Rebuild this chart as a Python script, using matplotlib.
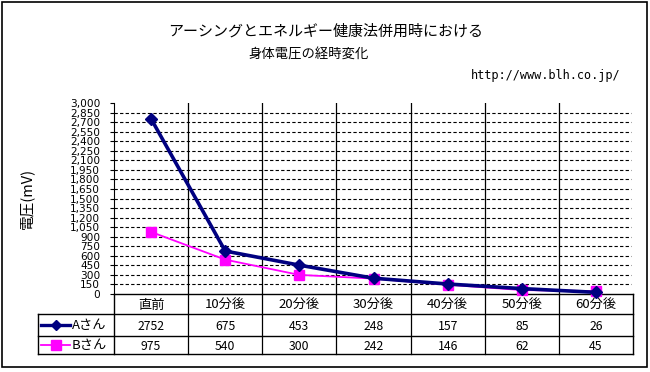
import matplotlib
matplotlib.use("Agg")
import matplotlib.pyplot as plt
from matplotlib.ticker import FuncFormatter, MultipleLocator

plt.rcParams['font.family'] = ['Noto Sans CJK JP', 'DejaVu Sans']

categories = ["直前", "10分後", "20分後", "30分後", "40分後", "50分後", "60分後"]
series_names = ["Aさん", "Bさん"]
a_values = [2752, 675, 453, 248, 157, 85, 26]
b_values = [975, 540, 300, 242, 146, 62, 45]
title_lines = ["アーシングとエネルギー健康法併用時における", "身体電圧の経時変化"]
url_text = "http://www.blh.co.jp/"
y_label = "電圧(mV)"
y_max = 3000
y_step = 150

W, H = 650, 372
fig = plt.figure(figsize=(W / 100, H / 100), dpi=100)
fig.patch.set_facecolor("white")

# full-figure pixel axes for frame, table, titles
bg = fig.add_axes([0, 0, 1, 1])
bg.set_xlim(0, W)
bg.set_ylim(H, 0)
bg.axis("off")

# geometry (pixels)
px_left, px_right = 114, 633
px_top, px_bottom = 103, 294
row_a, row_b, row_end = 314, 336, 354
leg_left = 38
ncat = len(categories)
colw = (px_right - px_left) / ncat

# outer frame
bg.add_patch(plt.Rectangle((2, 2), 645, 365, fill=False, lw=1.2, ec="black"))

# titles
bg.text(326, 31, title_lines[0], ha="center", va="center", fontsize=10.8)
bg.text(309, 55, title_lines[1], ha="center", va="center", fontsize=9.6)
bg.text(620, 76, url_text, ha="right", va="center", fontsize=8.6,
        family="DejaVu Sans Mono")
bg.text(27, 198, y_label, ha="center", va="center", rotation=90, fontsize=10.5)

# data axes
ax = fig.add_axes([px_left / W, (H - px_bottom) / H,
                   (px_right - px_left) / W, (px_bottom - px_top) / H])
ax.set_xlim(-0.5, ncat - 0.5)
ax.set_ylim(0, y_max)
ax.patch.set_alpha(0)
for s in ["top", "right", "bottom"]:
    ax.spines[s].set_visible(False)
ax.spines["left"].set_linewidth(0.8)
ax.yaxis.set_major_locator(MultipleLocator(y_step))
ax.yaxis.set_major_formatter(FuncFormatter(lambda v, p: f"{int(v):,}"))
ax.tick_params(axis="y", length=3, width=0.8, labelsize=7.6, pad=7)
for lbl in ax.get_yticklabels():
    lbl.set_family("DejaVu Sans")
ax.set_xticks([])
for v in range(y_step, y_max, y_step):
    ax.plot([-0.5, ncat - 0.53], [v, v], color="black", lw=0.8, ls=(0, (3, 2)), zorder=1)
for k in range(1, ncat):
    ax.axvline(k - 0.5, color="black", lw=0.9, zorder=1)

x = list(range(ncat))
ax.plot(x, b_values, color="#FF00FF", lw=1.3, marker="s", ms=7.5, zorder=3,
        clip_on=False)
ax.plot(x, a_values, color="#000080", lw=2.6, marker="D", ms=6.5, zorder=4,
        clip_on=False)

# table lines (pixel coords)
lc = "black"
bg.plot([px_left, px_right], [px_bottom, px_bottom], color=lc, lw=1.0)
for yy in (row_a, row_b, row_end):
    bg.plot([leg_left, px_right], [yy, yy], color=lc, lw=1.0)
bg.plot([leg_left, leg_left], [row_a, row_end], color=lc, lw=1.0)
bg.plot([px_left, px_left], [px_bottom, row_end], color=lc, lw=1.0)
bg.plot([px_right, px_right], [px_bottom, row_end], color=lc, lw=1.0)
for k in range(1, ncat):
    xx = px_left + k * colw
    bg.plot([xx, xx], [px_bottom, row_end], color=lc, lw=0.9)

# table text
for i, c in enumerate(categories):
    cx = px_left + (i + 0.5) * colw
    bg.text(cx, (px_bottom + row_a) / 2 + 1, c, ha="center", va="center", fontsize=9.5)
    bg.text(cx, (row_a + row_b) / 2 + 1, str(a_values[i]), ha="center", va="center", fontsize=8.8)
    bg.text(cx, (row_b + row_end) / 2 + 1, str(b_values[i]), ha="center", va="center", fontsize=8.8)

# legend keys in table
ya = (row_a + row_b) / 2
yb = (row_b + row_end) / 2
bg.plot([41, 70], [ya, ya], color="#000080", lw=2.4)
bg.plot([55.5], [ya], color="#000080", marker="D", ms=5)
bg.plot([41, 70], [yb, yb], color="#FF00FF", lw=1.3)
bg.plot([55.5], [yb], color="#FF00FF", marker="s", ms=6.5)
bg.text(72, ya + 1, series_names[0], ha="left", va="center", fontsize=9.5)
bg.text(72, yb + 1, series_names[1], ha="left", va="center", fontsize=9.5)

fig.savefig("out.png", dpi=100)
